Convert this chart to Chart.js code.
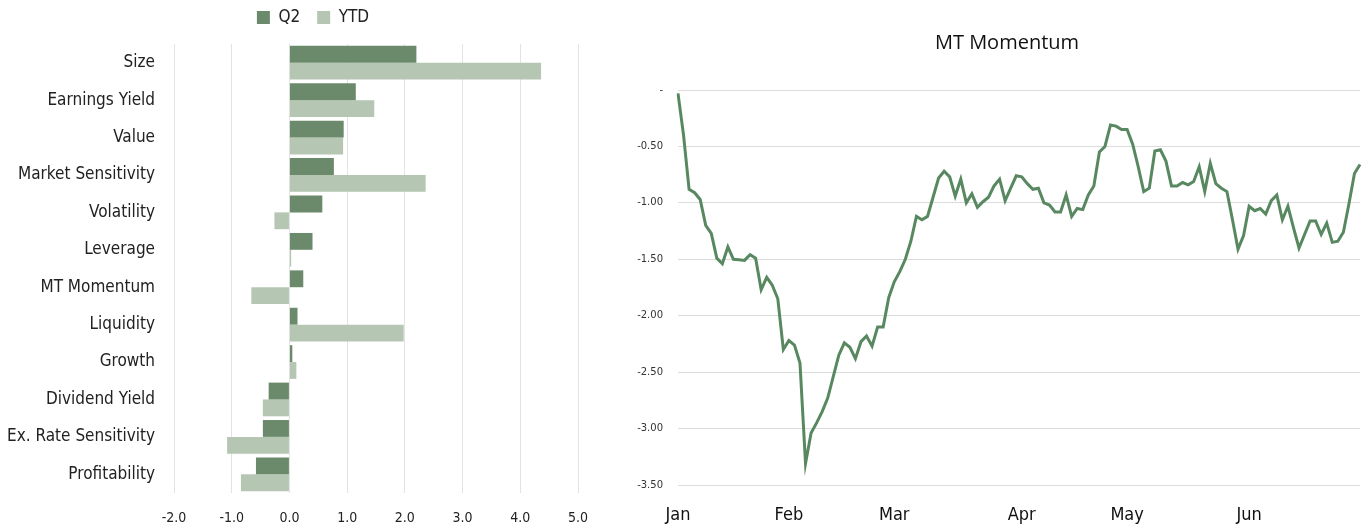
<!DOCTYPE html>
<html>
<head>
<meta charset="utf-8">
<script src="https://cdn.jsdelivr.net/npm/chart.js@4"></script>
<style>
  body { margin: 0; background: #fff; overflow: hidden; }
  #left { position: absolute; left: 0; top: 0; width: 632px; height: 527px; }
  #right { position: absolute; left: 600px; top: 0; width: 772px; height: 527px; }
</style>
</head>
<body>
<div id="left"><canvas id="barChart"></canvas></div>
<div id="right"><canvas id="lineChart"></canvas></div>
<script>
const narrow = '"DejaVu Sans Condensed", "Liberation Sans Narrow", sans-serif';

// factor exposures
const factors = ['Size', 'Earnings Yield', 'Value', 'Market Sensitivity', 'Volatility', 'Leverage',
  'MT Momentum', 'Liquidity', 'Growth', 'Dividend Yield', 'Ex. Rate Sensitivity', 'Profitability'];
const q2 = [2.20, 1.15, 0.94, 0.77, 0.57, 0.40, 0.24, 0.14, 0.05, -0.36, -0.46, -0.58];
const ytd = [4.36, 1.47, 0.93, 2.36, -0.26, 0.03, -0.66, 1.98, 0.12, -0.46, -1.08, -0.84];

// MT Momentum daily path
const momentum = [
  -0.03, -0.40, -0.88, -0.91, -0.97, -1.20, -1.27, -1.49, -1.54, -1.39,
  -1.50, -1.505, -1.51, -1.46, -1.49, -1.77, -1.66, -1.73, -1.85, -2.30,
  -2.22, -2.26, -2.42, -3.31, -3.04, -2.95, -2.85, -2.73, -2.54, -2.35,
  -2.24, -2.28, -2.38, -2.23, -2.18, -2.27, -2.10, -2.10, -1.84, -1.70,
  -1.61, -1.50, -1.34, -1.12, -1.15, -1.12, -0.95, -0.78, -0.72, -0.77,
  -0.94, -0.79, -1.00, -0.92, -1.04, -0.99, -0.95, -0.85, -0.79, -0.98,
  -0.87, -0.76, -0.77, -0.83, -0.88, -0.87, -1.00, -1.02, -1.08, -1.08,
  -0.93, -1.12, -1.05, -1.06, -0.93, -0.85, -0.55, -0.50, -0.31, -0.32,
  -0.35, -0.35, -0.48, -0.68, -0.90, -0.87, -0.54, -0.53, -0.63, -0.85,
  -0.85, -0.82, -0.84, -0.81, -0.68, -0.90, -0.65, -0.83, -0.87, -0.90,
  -1.15, -1.41, -1.29, -1.03, -1.07, -1.05, -1.10, -0.98, -0.93, -1.15,
  -1.03, -1.22, -1.40, -1.28, -1.16, -1.16, -1.28, -1.18, -1.35, -1.34,
  -1.26, -1.01, -0.74, -0.66
];
const monthNames = ['Jan', 'Feb', 'Mar', 'Apr', 'May', 'Jun'];
const monthStarts = [0, 20, 39, 62, 81, 103];

const dayLabels = momentum.map((v, i) => {
  const m = monthStarts.indexOf(i);
  return m >= 0 ? monthNames[m] : '';
});

// shift legend / title boxes after layout (they centre on the whole canvas otherwise)
const nudge = {
  id: 'nudge',
  afterLayout(chart, args, opts) {
    const box = opts.target === 'title' ? chart.titleBlock : chart.legend;
    if (!box) return;
    box.left += opts.dx || 0;
    box.right += opts.dx || 0;
    box.top += opts.dy || 0;
    box.bottom += opts.dy || 0;
  }
};

new Chart(document.getElementById('barChart'), {
  type: 'bar',
  data: {
    labels: factors,
    datasets: [
      { label: 'Q2', data: q2, backgroundColor: '#6b8a6b', barPercentage: 1.0, categoryPercentage: 0.9 },
      { label: 'YTD', data: ytd, backgroundColor: '#b5c6b3', barPercentage: 1.0, categoryPercentage: 0.9 }
    ]
  },
  plugins: [nudge],
  options: {
    indexAxis: 'y',
    responsive: true,
    maintainAspectRatio: false,
    animation: false,
    layout: { padding: { top: 0, right: 54, bottom: 0, left: 0 } },
    plugins: {
      nudge: { target: 'legend', dx: 24, dy: -8 },
      legend: {
        position: 'top',
        labels: {
          boxWidth: 13, boxHeight: 13, padding: 17,
          color: '#222', font: { family: narrow, size: 17 }
        }
      },
      tooltip: { enabled: false }
    },
    scales: {
      x: {
        min: -2, max: 5,
        ticks: { stepSize: 1, color: '#222', padding: 17, font: { family: narrow, size: 14 },
          callback: v => v.toFixed(1) },
        grid: { color: '#e3e3e3', drawTicks: false },
        border: { display: false },
        afterFit: s => { s.height = 34; }
      },
      y: {
        ticks: { color: '#222', padding: 11, font: { family: narrow, size: 17 } },
        grid: { display: false },
        border: { display: false },
        afterFit: s => { s.width = 174; }
      }
    }
  }
});

new Chart(document.getElementById('lineChart'), {
  type: 'line',
  data: {
    labels: dayLabels,
    datasets: [{
      label: 'MT Momentum', data: momentum, borderColor: '#588860', borderWidth: 3,
      pointRadius: 0, tension: 0, fill: false
    }]
  },
  plugins: [nudge],
  options: {
    responsive: true,
    maintainAspectRatio: false,
    animation: false,
    layout: { padding: { top: 30, right: 2, bottom: 0, left: 0 } },
    plugins: {
      nudge: { target: 'title', dx: 22, dy: 0 },
      legend: { display: false },
      tooltip: { enabled: false },
      title: {
        display: true, text: 'MT Momentum', color: '#111',
        font: { family: '"Open Sans", sans-serif', size: 20, weight: 'normal' },
        padding: { top: 1, bottom: 35 }
      }
    },
    scales: {
      x: {
        offset: false,
        grid: { display: false },
        border: { display: false },
        ticks: { autoSkip: false, maxRotation: 0, color: '#111', padding: 12,
          font: { family: narrow, size: 18 } },
        afterFit: s => { s.height = 42; }
      },
      y: {
        min: -3.5, max: 0,
        ticks: { stepSize: 0.5, color: '#333', padding: 15, font: { family: '"DejaVu Sans", sans-serif', size: 10 },
          callback: v => v === 0 ? '-' : v.toFixed(2) },
        grid: { color: '#dcdcdc', drawTicks: false },
        border: { display: false },
        afterFit: s => { s.width = 78; }
      }
    }
  }
});
</script>
</body>
</html>
